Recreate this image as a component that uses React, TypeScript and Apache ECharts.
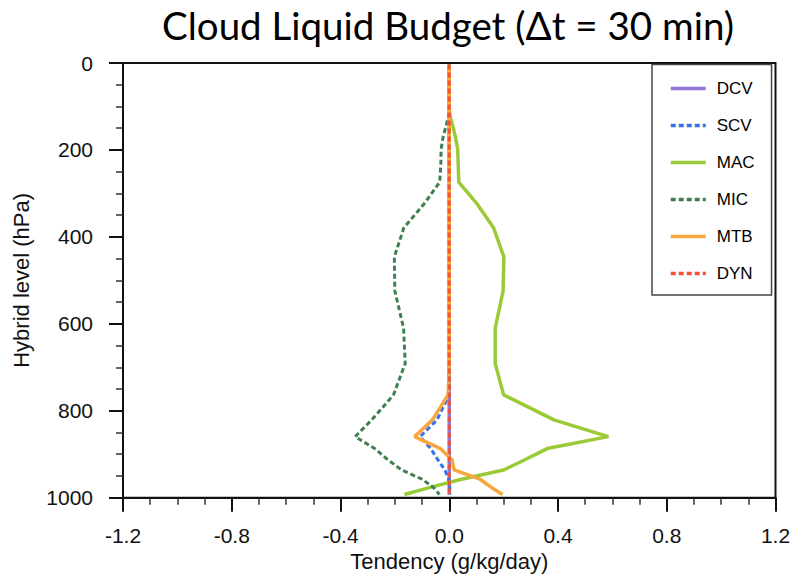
import React, { useEffect, useRef } from "react";
import * as echarts from "echarts";

// Model hybrid levels (hPa)
const levels = [3.64, 7.59, 14.36, 24.61, 38.27, 54.6, 72.01, 87.82, 103.32, 121.55, 142.99, 168.23, 197.91, 232.83, 273.91, 322.24, 379.1, 445.99, 524.69, 609.78, 691.39, 763.4, 820.86, 859.53, 887.02, 912.64, 936.2, 957.49, 976.33, 992.56];

// Tendencies (g/kg/day) at each level
const dcv = [0, 0, 0, 0, 0, 0, 0, 0, 0, 0, 0, 0, 0, 0, 0, 0, 0, 0, 0, 0, 0, 0, 0, 0, 0, 0, 0, 0, 0, 0];
const scv = [0, 0, 0, 0, 0, 0, 0, 0, 0, 0, 0, 0, 0, 0, 0, 0, 0, 0, 0, 0, 0, 0, -0.045, -0.107, -0.068, -0.042, -0.016, -0.002, 0.002, 0.003];
const mac = [0, 0, 0, 0, 0, 0, 0, 0, 0, 0.003, 0.012, 0.022, 0.031, 0.033, 0.035, 0.1, 0.163, 0.201, 0.198, 0.169, 0.169, 0.2, 0.385, 0.585, 0.36, 0.278, 0.2, 0.045, -0.07, -0.165];
const mic = [0, 0, 0, 0, 0, 0, 0, 0, 0, -0.003, -0.011, -0.022, -0.03, -0.031, -0.035, -0.09, -0.167, -0.202, -0.2, -0.168, -0.162, -0.205, -0.285, -0.346, -0.274, -0.226, -0.175, -0.1, -0.058, -0.036];
const mtb = [0, 0, 0, 0, 0, 0, 0, 0, 0, 0, 0, 0, 0, 0, 0, 0, 0, 0, 0, 0, 0, -0.004, -0.062, -0.127, -0.033, 0.01, 0.018, 0.113, 0.155, 0.196];
const dyn = [0, 0, 0, 0, 0, 0, 0, 0, 0, 0, 0, 0, 0, 0, 0, 0, 0, 0, 0, 0, 0, 0, 0, 0, 0, 0, 0, 0, 0, 0];

const seriesNames = ["DCV", "SCV", "MAC", "MIC", "MTB", "DYN"];
const seriesValues = [dcv, scv, mac, mic, mtb, dyn];
const seriesColors = ["#9275D9", "#3471EC", "#9ACA35", "#3F8052", "#F8A73C", "#EE5432"];
const seriesDashed = [false, true, false, true, false, true];

const titleText = "Cloud Liquid Budget (\u0394t = 30 min)";
const xName = "Tendency (g/kg/day)";
const yName = "Hybrid level (hPa)";

export default function App() {
  const ref = useRef<HTMLDivElement>(null);
  useEffect(() => {
    if (!ref.current) return;
    const chart = echarts.init(ref.current, null, { renderer: "svg" });
    const font = "Liberation Sans, Arial, Helvetica, sans-serif";
    const series = seriesNames.map((name, i) => ({
      name,
      type: "line",
      data: levels.map((lv, j) => [seriesValues[i][j], lv]),
      showSymbol: false,
      symbol: "none",
      lineStyle: {
        color: seriesColors[i],
        width: seriesDashed[i] ? 3 : 3.5,
        type: seriesDashed[i] ? [5, 3] : "solid",
        cap: "butt",
      },
      itemStyle: { color: seriesColors[i] },
      z: 2 + i,
    }));
    chart.setOption({
      animation: false,
      backgroundColor: "#fff",
      graphic: [
        {
          type: "text",
          x: 448,
          y: 25,
          style: {
            text: titleText,
            font: "38.5px Lato, 'Open Sans', sans-serif",
            fill: "#000",
            align: "center",
            verticalAlign: "middle",
          },
        },
      ],
      legend: {
        orient: "vertical",
        left: 652,
        top: 64.5,
        padding: [15.5, 17, 13, 17],
        itemWidth: 35,
        itemHeight: 14,
        itemGap: 20,
        borderColor: "#444",
        borderWidth: 1.5,
        backgroundColor: "#fff",
        itemStyle: { opacity: 0 },
        lineStyle: { width: 3.5 },
        textStyle: { fontFamily: font, fontSize: 17, color: "#000", padding: [0, 0, 0, 6] },
        data: seriesNames,
      },
      grid: {
        left: 123,
        right: 16.5,
        top: 63,
        bottom: 82.3,
        show: true,
        borderColor: "#111",
        borderWidth: 2,
        containLabel: false,
        outerBoundsMode: "none",
      },
      xAxis: {
        type: "value",
        min: -1.2,
        max: 1.2,
        interval: 0.4,
        name: xName,
        nameLocation: "middle",
        nameGap: 49,
        nameTextStyle: { fontFamily: font, fontSize: 22, color: "#111" },
        axisLine: { show: true, onZero: false, lineStyle: { color: "#111", width: 2 } },
        axisTick: { show: true, inside: false, length: 14, lineStyle: { color: "#111", width: 2 } },
        minorTick: { show: true, splitNumber: 4, length: 7, lineStyle: { color: "#333", width: 1.5 } },
        splitLine: { show: false },
        minorSplitLine: { show: false },
        axisLabel: {
          fontFamily: font,
          fontSize: 21,
          color: "#111",
          margin: 27,
          formatter: (v: number) => v.toFixed(1),
        },
      },
      yAxis: {
        type: "value",
        inverse: true,
        min: 0,
        max: 1000,
        interval: 200,
        name: yName,
        nameLocation: "middle",
        nameGap: 91,
        nameTextStyle: { fontFamily: font, fontSize: 22, color: "#111" },
        axisLine: { show: true, onZero: false, lineStyle: { color: "#111", width: 2 } },
        axisTick: { show: true, inside: false, length: 14, lineStyle: { color: "#111", width: 2 } },
        minorTick: { show: true, splitNumber: 4, length: 7, lineStyle: { color: "#333", width: 1.5 } },
        splitLine: { show: false },
        minorSplitLine: { show: false },
        axisLabel: {
          fontFamily: font,
          fontSize: 21,
          color: "#111",
          margin: 30,
          formatter: (v: number) => String(Math.round(v)),
        },
      },
      series,
    });
    return () => chart.dispose();
  }, []);
  return (
    <div
      ref={ref}
      style={{ position: "absolute", left: 0, top: 0, width: 792, height: 580 }}
    />
  );
}
